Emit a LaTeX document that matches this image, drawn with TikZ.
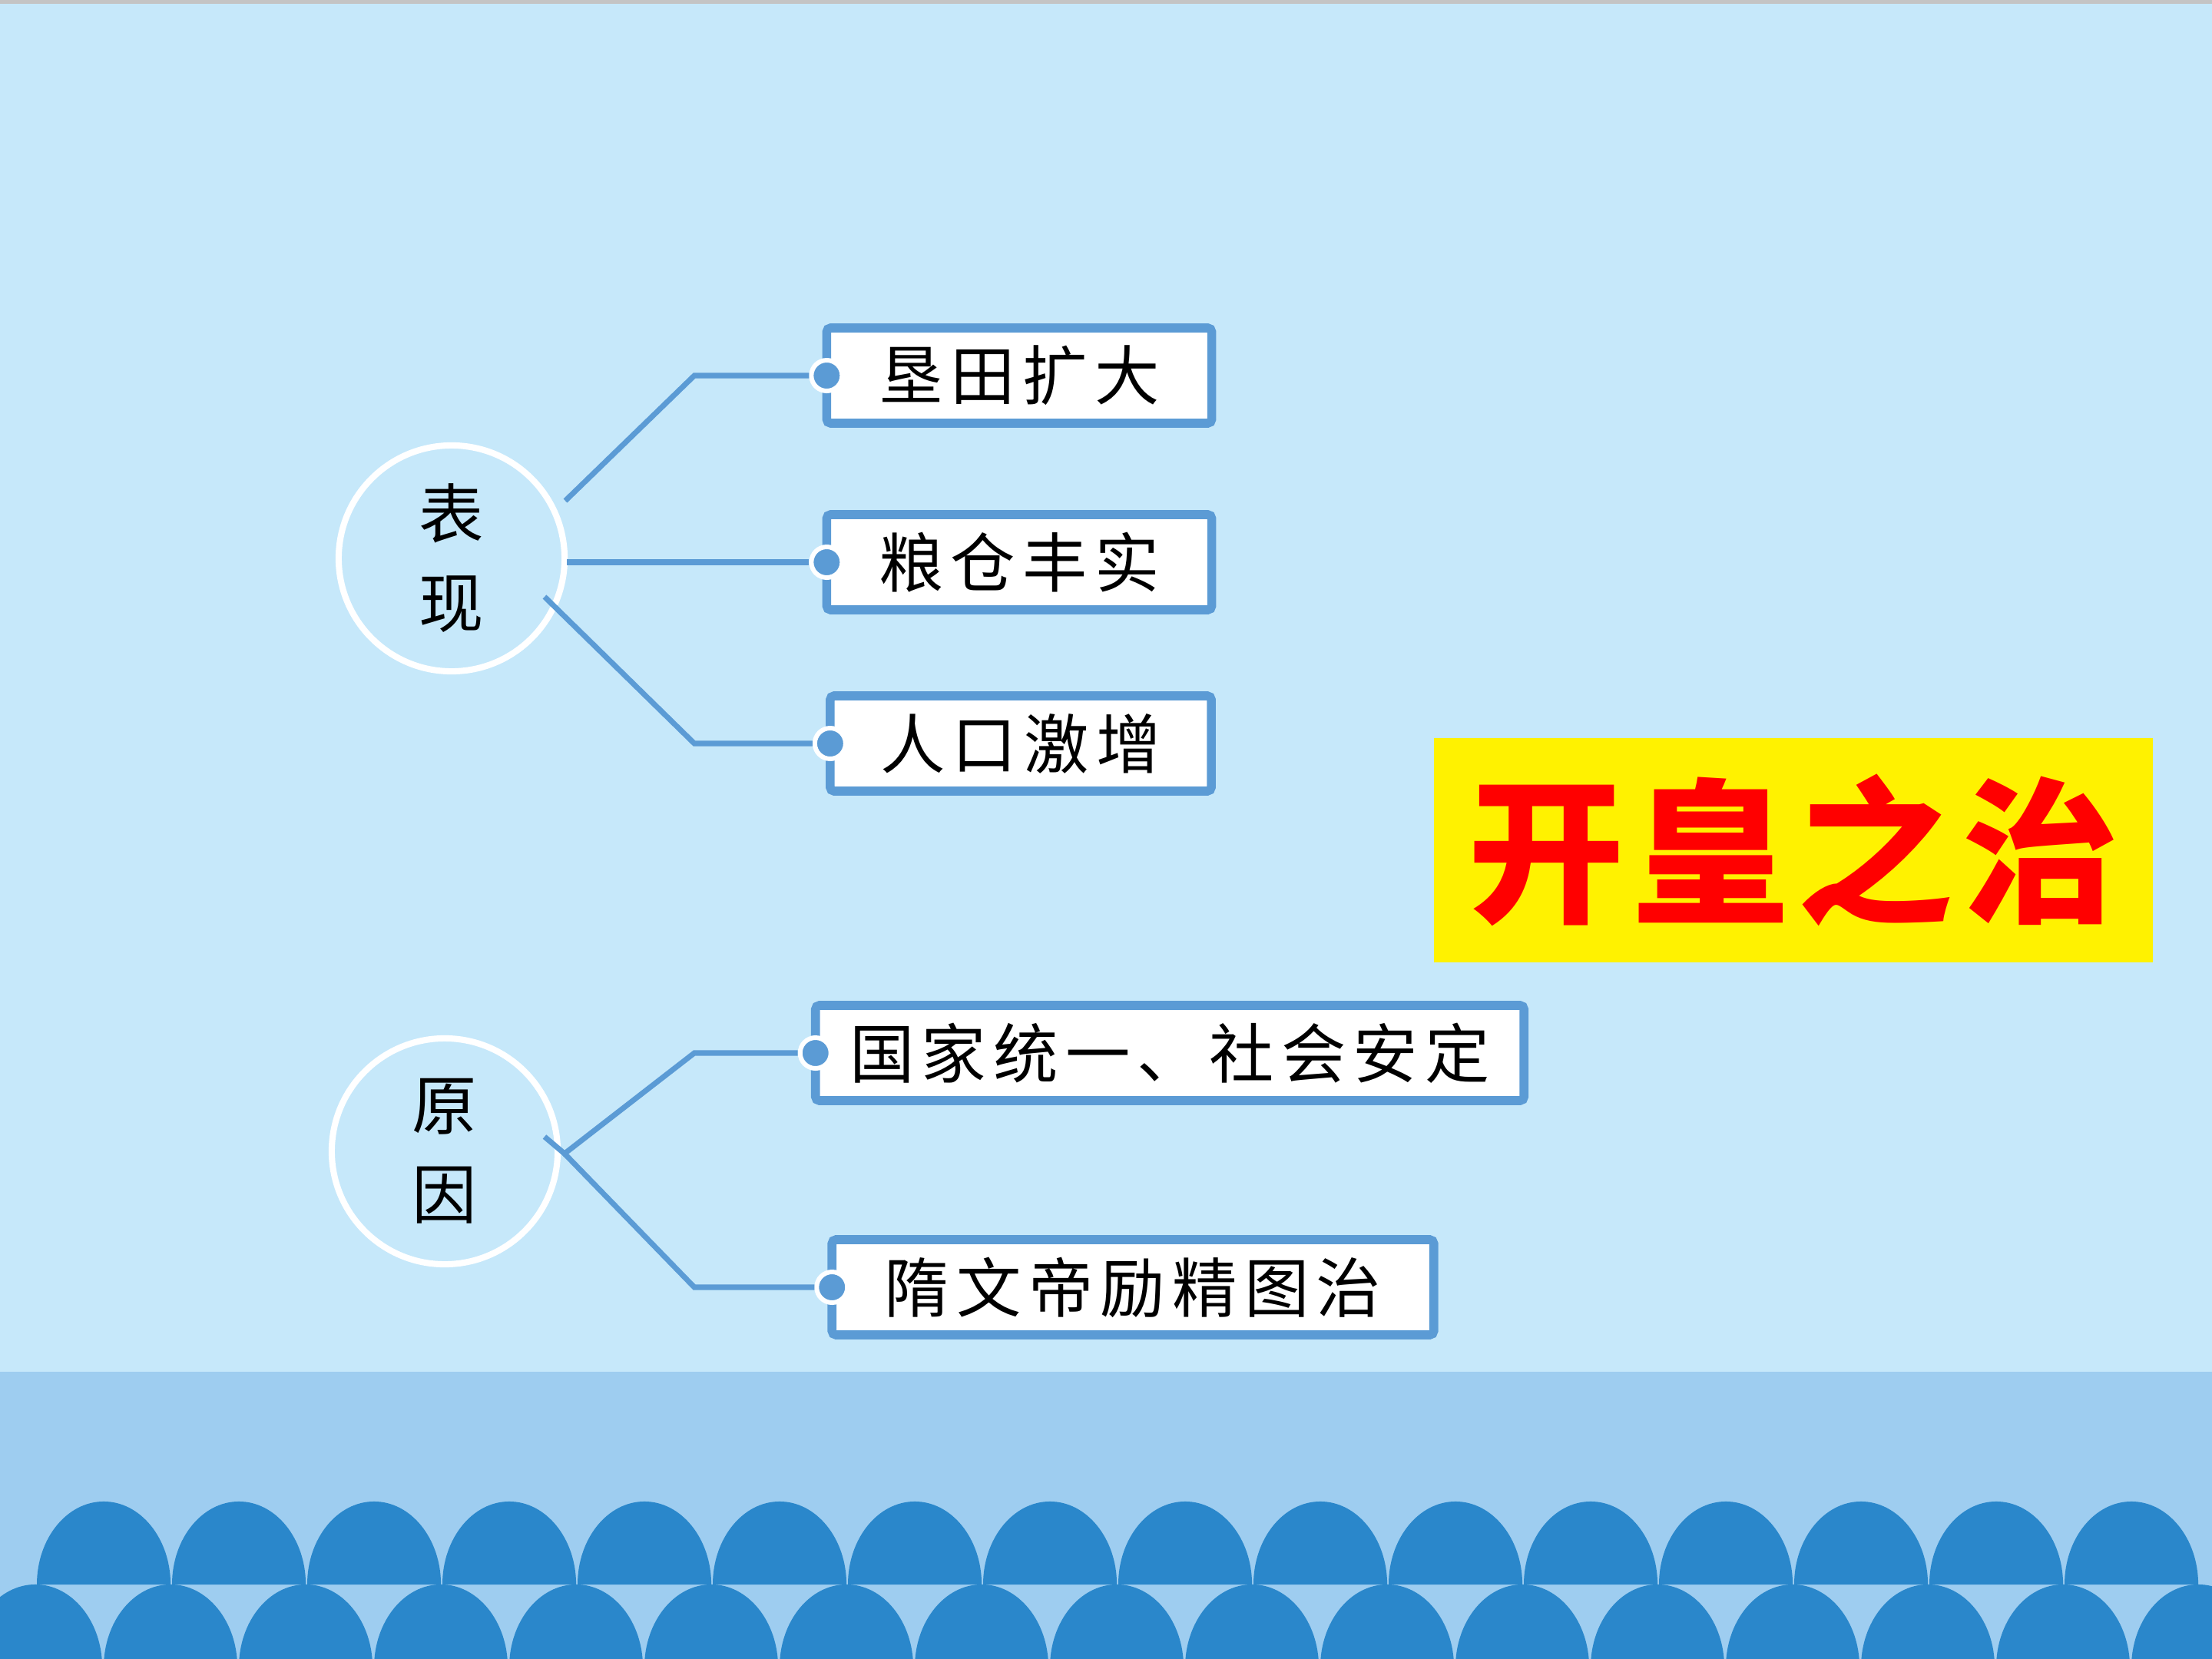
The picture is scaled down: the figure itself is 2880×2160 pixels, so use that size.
\documentclass[tikz,border=0pt]{standalone}
\usepackage{fontspec}
\newfontfamily\cjk[LetterSpace=11]{Noto Sans CJK SC}
\newfontfamily\cjkplain{Noto Sans CJK SC}
\newfontfamily\cjktitle[LetterSpace=5]{Noto Sans CJK SC}
\definecolor{bgA}{HTML}{C6E8FA}
\definecolor{bandC}{HTML}{9ECDF0}
\definecolor{waveC}{HTML}{2A87CB}
\definecolor{lineC}{HTML}{5B9BD5}
\definecolor{topgray}{HTML}{C4C4C4}
\begin{document}
\begin{tikzpicture}[x=0.01cm,y=-0.01cm,
  conn/.style={draw=lineC, line width=2pt},
  ring/.style={circle, draw=white, line width=2.3pt, minimum size=2.94cm, inner sep=0pt, outer sep=0pt, align=center, font=\cjkplain\fontsize{24}{33}\selectfont},
  itembox/.style={draw=lineC, fill=white, line width=3.3pt, rounded corners=1.5pt, minimum height=1.24cm, inner sep=0pt, outer sep=0pt, font=\cjk\fontsize{24}{28}\selectfont},
  dot/.style={circle, fill=lineC, draw=white, line width=1.7pt, minimum size=0.4cm, inner sep=0pt},
  arch/.style={fill=waveC}]
\useasboundingbox (0,0) rectangle (2880,2160);
% background
\fill[bgA] (0,0) rectangle (2880,2160);
\fill[bandC] (0,1786) rectangle (2880,2160);
\fill[topgray] (0,0) rectangle (2880,5);
% waves
\foreach \k in {0,...,15} {
  \fill[arch] ({135+176*\k-87},2063) arc[start angle=180, end angle=0, x radius=0.87cm, y radius=1.08cm] -- cycle;
}
\foreach \k in {0,...,16} {
  \fill[arch] ({46+176*\k-87},2171) arc[start angle=180, end angle=0, x radius=0.87cm, y radius=1.08cm] -- cycle;
}
% circles
\node[ring] (c1) at (588,727) {表\\现};
\node[ring] (c2) at (579,1499) {原\\因};
% boxes
\node[itembox, minimum width=5.01cm] (b1) at (1327,489) {垦田扩大};
\node[itembox, minimum width=5.01cm] (b2) at (1327,732) {粮仓丰实};
\node[itembox, minimum width=4.96cm] (b3) at (1329,968) {人口激增};
\node[itembox, minimum width=9.22cm] (b4) at (1523,1371) {国家统一、社会安定};
\node[itembox, minimum width=7.83cm] (b5) at (1475,1676) {隋文帝励精图治};
% title
\node[fill=yellow, minimum width=9.35cm, minimum height=2.92cm, inner sep=0pt, text=red, font=\cjktitle\bfseries\fontsize{58}{60}\selectfont] (title) at (2335,1107) {\raisebox{-0.12cm}{开皇之治}};
% connector points
\coordinate (s1) at (736,652);
\coordinate (k1) at (904,489);
\coordinate (s2) at (738,732);
\coordinate (s3) at (709,777);
\coordinate (k3) at (904,968);
\coordinate (t4) at (709,1480);
\coordinate (s4) at (735,1502);
\coordinate (k4) at (904,1371);
\coordinate (k5) at (904,1676);
% dots
\node[dot] (d1) at (b1.west) {};
\node[dot] (d2) at (b2.west) {};
\node[dot] (d3) at (b3.west) {};
\node[dot] (d4) at (b4.west) {};
\node[dot] (d5) at (b5.west) {};
% connectors
\draw[conn] (s1) -- (k1) -- (d1.west);
\draw[conn] (s2) -- (d2.west);
\draw[conn] (s3) -- (k3) -- (d3.west);
\draw[conn] (t4) -- (s4) -- (k4) -- (d4.west);
\draw[conn] (s4) -- (k5) -- (d5.west);
\end{tikzpicture}
\end{document}
